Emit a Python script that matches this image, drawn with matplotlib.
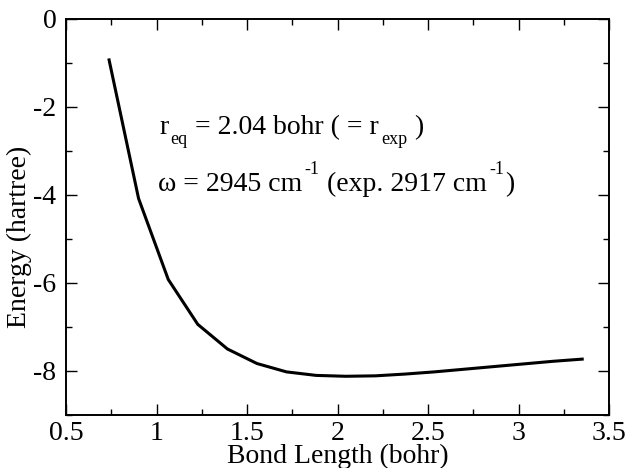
import numpy as np
import matplotlib
matplotlib.use("Agg")
import matplotlib.pyplot as plt
from matplotlib.ticker import MultipleLocator

plt.rcParams["font.family"] = ["Liberation Serif", "DejaVu Serif"]
plt.rcParams["axes.unicode_minus"] = False

# Bond length (bohr) vs total energy (hartree)
bond_length = [0.738, 0.901, 1.065, 1.228, 1.392, 1.555, 1.718, 1.882, 2.045,
               2.209, 2.372, 2.535, 2.699, 2.862, 3.026, 3.189, 3.352]
energy = [-0.93, -4.08, -5.92, -6.94, -7.50, -7.83, -8.02, -8.10, -8.12,
          -8.11, -8.07, -8.02, -7.96, -7.90, -7.84, -7.78, -7.73]

W, H = 628, 468
fig = plt.figure(figsize=(W / 100, H / 100), dpi=100)
ax = fig.add_axes([66 / W, 53 / H, 543 / W, 396 / H])

ax.plot(bond_length, energy, color="black", linewidth=2.2)

ax.set_xlim(0.5, 3.5)
ax.set_ylim(-9, 0)
ax.xaxis.set_major_locator(MultipleLocator(0.5))
ax.xaxis.set_minor_locator(MultipleLocator(0.25))
ax.yaxis.set_major_locator(MultipleLocator(2))
ax.yaxis.set_minor_locator(MultipleLocator(1))
ax.xaxis.set_major_formatter(plt.FuncFormatter(lambda v, p: "%g" % v))
ax.yaxis.set_major_formatter(plt.FuncFormatter(lambda v, p: "%g" % v))

ax.tick_params(which="both", direction="in", top=True, right=True,
               labelsize=20, width=1.0)
ax.tick_params(which="major", length=8)
ax.tick_params(axis="x", which="major", pad=4)
ax.tick_params(axis="y", which="major", pad=7)
ax.tick_params(which="minor", length=4)
for s in ax.spines.values():
    s.set_linewidth(1.4)

ax.set_xlabel("Bond Length (bohr)", fontsize=20, va="baseline")
ax.xaxis.set_label_coords(0.5, -(463 - 415) / 396)
ax.set_ylabel("Energy (hartree)", fontsize=20)
ax.yaxis.set_label_coords((32 - 66) / 543, (415 - 237) / 396)

# grace-style annotation: pieces with their own size and baseline shift (px)
fig.canvas.draw()
renderer = fig.canvas.get_renderer()


def text_width(s, size):
    a = fig.text(0, 0, "x" + s + "x", fontsize=size)
    b = fig.text(0, 0, "xx", fontsize=size)
    w = a.get_window_extent(renderer).width - b.get_window_extent(renderer).width
    a.remove()
    b.remove()
    return w


def place_line(x, baseline, pieces):
    for s, size, shift in pieces:
        if shift:
            x += 2
        fig.text(x / W, 1 - (baseline - shift) / H, s, fontsize=size,
                 va="baseline", ha="left")
        x += text_width(s, size)
        if shift:
            x += 1


place_line(159, 134, [("r", 20, 0), ("eq", 13, -10),
                      (" = 2.04 bohr ( = r", 20, 0), ("exp", 13, -10),
                      (" )", 20, 0)])
place_line(158, 191, [("\u03c9 = 2945 cm", 20, 0), ("-1", 13, 17),
                      (" (exp. 2917 cm", 20, 0), ("-1", 13, 17),
                      (")", 20, 0)])

fig.savefig("out.png", dpi=100)
